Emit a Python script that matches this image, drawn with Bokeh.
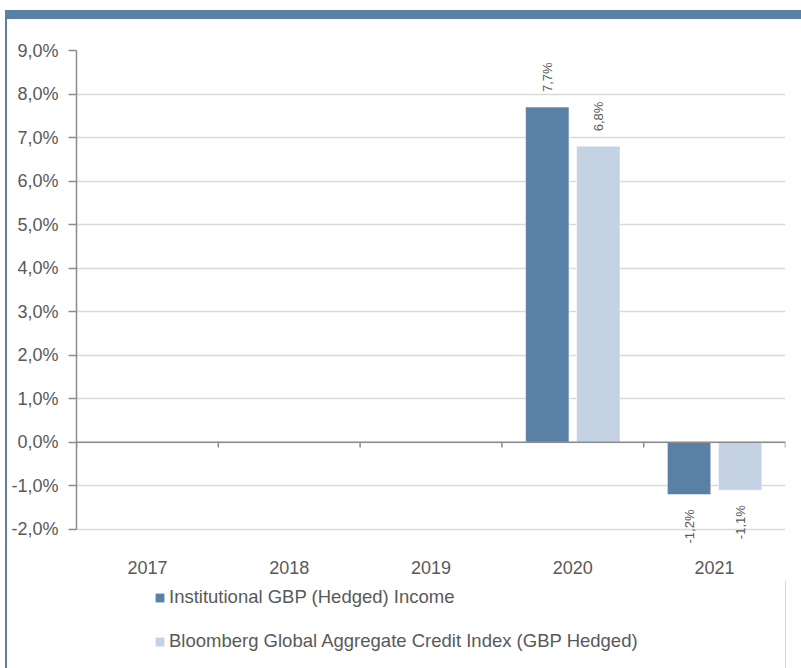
import numpy as np
from bokeh.plotting import figure
from bokeh.models import (ColumnDataSource, Range1d, FixedTicker, Span, Legend, LegendItem, Div)
from bokeh.layouts import column, row
from bokeh.embed import file_html
from bokeh.resources import INLINE

years = ["2017", "2018", "2019", "2020", "2021"]
fund = [np.nan, np.nan, np.nan, 7.7, -1.2]
index = [np.nan, np.nan, np.nan, 6.8, -1.1]
series_names = ["Institutional GBP (Hedged) Income",
                "Bloomberg Global Aggregate Credit Index (GBP Hedged)"]
y_ticks = [-2, -1, 0, 1, 2, 3, 4, 5, 6, 7, 8, 9]

DARK = "#5b80a5"
LIGHT = "#c5d2e4"
TXT = "#595959"
FONT = "Liberation Sans"

def fmt(v):
    return f"{v:.1f}".replace(".", ",") + "%"

centers = np.arange(len(years)) + 0.5
off = 0.18
bw = 0.306

p = figure(width=794, height=561, output_backend="svg", toolbar_location=None,
           x_range=Range1d(0, len(years)), y_range=Range1d(min(y_ticks) - 0.6, max(y_ticks)),
           min_border_left=69, min_border_right=16, min_border_top=31, min_border_bottom=25)
p.outline_line_color = None
p.background_fill_color = "white"
p.border_fill_color = "white"

# y axis
yax = p.yaxis[0]
yax.ticker = FixedTicker(ticks=y_ticks)
yax.bounds = (min(y_ticks), max(y_ticks))
yax.major_label_overrides = {t: fmt(t) for t in y_ticks}
yax.major_label_text_font = FONT
yax.major_label_text_font_size = "18px"
yax.major_label_text_color = TXT
yax.axis_line_color = "#8c8c8c"
yax.axis_line_width = 1.5
yax.major_tick_line_color = "#8c8c8c"
yax.major_tick_line_width = 1.5
yax.major_tick_out = 8
yax.major_tick_in = 0
yax.minor_tick_line_color = None
yax.major_label_standoff = 10

# x axis
xax = p.xaxis[0]
xax.ticker = FixedTicker(ticks=list(centers))
xax.major_label_overrides = {float(c): y for c, y in zip(centers, years)}
xax.major_label_text_font = FONT
xax.major_label_text_font_size = "18px"
xax.major_label_text_color = TXT
xax.axis_line_color = None
xax.major_tick_line_color = None
xax.minor_tick_line_color = None
xax.major_tick_out = 0
xax.major_tick_in = 0
xax.major_label_standoff = 5

p.xgrid.grid_line_color = None
p.ygrid.ticker = FixedTicker(ticks=y_ticks)
p.ygrid.grid_line_color = "#d9d9d9"
p.ygrid.grid_line_width = 1.5

src = ColumnDataSource(dict(x1=centers - off, x2=centers + off, a=fund, b=index))
p.vbar(x="x1", top="a", bottom=0, width=bw, source=src, fill_color=DARK, line_color="white", line_width=0.5)
p.vbar(x="x2", top="b", bottom=0, width=bw, source=src, fill_color=LIGHT, line_color="white", line_width=0.5)

# zero line with category boundary ticks
p.add_layout(Span(location=0, dimension="width", line_color="#8c8c8c", line_width=1.5))
bounds = np.arange(len(years) + 1)
p.segment(x0=bounds, x1=bounds, y0=np.zeros(len(bounds)), y1=np.full(len(bounds), -0.12),
          line_color="#8c8c8c", line_width=1.5)

# value labels
lx, ly, lt, la, lo = [], [], [], [], []
for xs, vals in ((centers - off, fund), (centers + off, index)):
    for x, v in zip(xs, vals):
        if np.isnan(v):
            continue
        lx.append(x); ly.append(v); lt.append(fmt(v))
        la.append("left" if v >= 0 else "right")
        lo.append(-15 if v >= 0 else 15)
lsrc = ColumnDataSource(dict(x=lx, y=ly, t=lt, a=la, o=lo))
p.text(x="x", y="y", text="t", source=lsrc, angle=np.pi / 2, text_align="a",
       text_baseline="middle", y_offset="o", text_font_size="13px",
       text_color=TXT, text_font={"value": FONT})

# legend strip (same series renderers, ranges chosen so no bar falls in view)
p2 = figure(width=794, height=88, output_backend="svg", toolbar_location=None,
            x_range=Range1d(-2, -1), y_range=Range1d(0, 1),
            x_axis_location=None, y_axis_location=None,
            min_border_left=0, min_border_right=0, min_border_top=0, min_border_bottom=0)
p2.outline_line_color = None
p2.xgrid.grid_line_color = None
p2.ygrid.grid_line_color = None
g1 = p2.vbar(x="x1", top="a", bottom=0, width=bw, source=src, fill_color=DARK, line_color=None)
g2 = p2.vbar(x="x2", top="b", bottom=0, width=bw, source=src, fill_color=LIGHT, line_color=None)

legend = Legend(items=[LegendItem(label=series_names[0], renderers=[g1]),
                       LegendItem(label=series_names[1], renderers=[g2])],
                location=(78, 16), orientation="vertical")
legend.label_text_font = FONT
legend.label_text_font_size = "18.5px"
legend.label_text_color = TXT
legend.glyph_width = 11
legend.glyph_height = 11
legend.label_standoff = 4
legend.spacing = 22
legend.padding = 0
legend.margin = 0
legend.border_line_color = None
legend.background_fill_alpha = 0
p2.add_layout(legend, "center")

band = Div(width=796, height=9, margin=(10, 0, 0, 5), styles={"background-color": DARK})
rule = Div(width=2, height=649, margin=(0, 0, 0, 5), styles={"background-color": DARK})
layout = column(band, row(rule, column(p, p2, spacing=0), spacing=0), spacing=0)

open("out.html", "w").write(file_html(layout, INLINE))
